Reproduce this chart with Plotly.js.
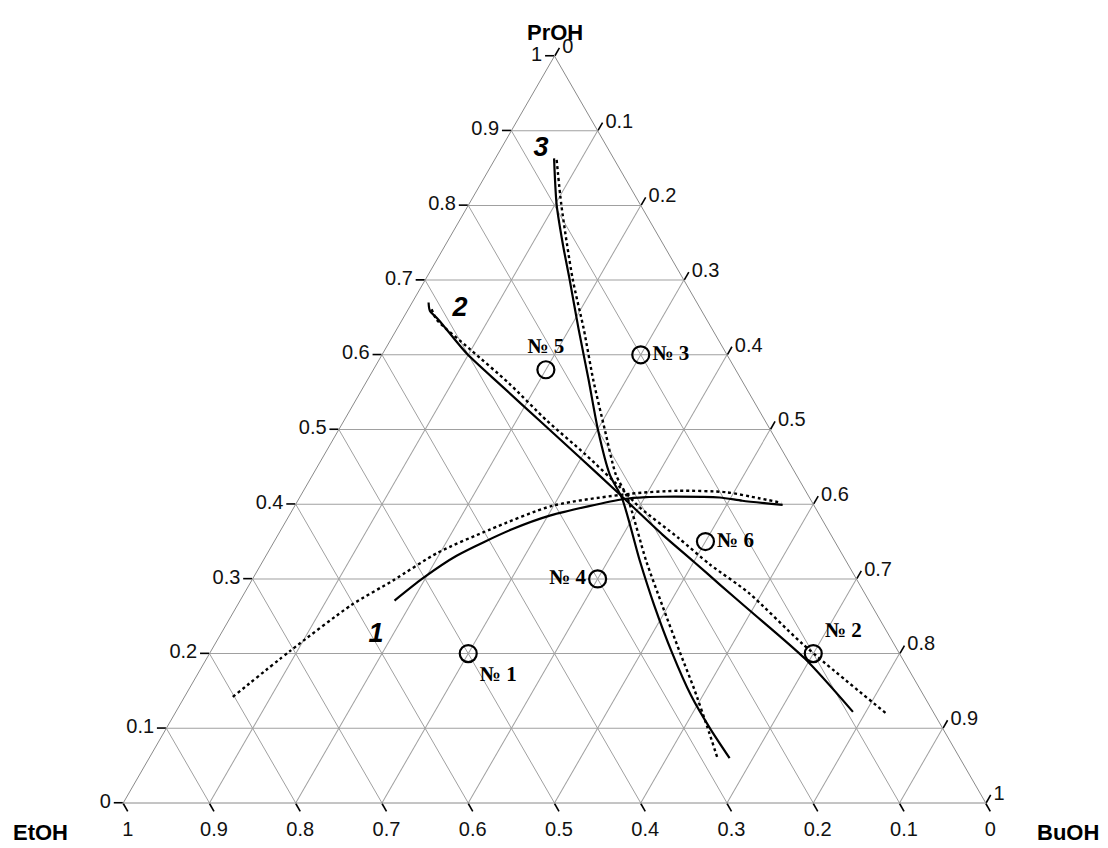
<!DOCTYPE html>
<html>
<head>
<meta charset="utf-8">
<script src="https://cdn.plot.ly/plotly-3.0.1.min.js"></script>
<style>html,body{margin:0;padding:0;background:#fff;}#chart{width:1108px;height:848px;}</style>
</head>
<body>
<div id="chart"></div>
<script>
// Component names (apex: PrOH, left: EtOH, right: BuOH)
var axisNames = ["PrOH", "EtOH", "BuOH"];

// Experimental compositions (PrOH, EtOH, BuOH)
var pointLabels = ["№ 1", "№ 2", "№ 3", "№ 4", "№ 5", "№ 6"];
var pointPrOH = [0.20, 0.20, 0.60, 0.30, 0.58, 0.35];
var pointEtOH = [0.50, 0.10, 0.10, 0.30, 0.22, 0.15];
var pointBuOH = [0.30, 0.70, 0.30, 0.40, 0.20, 0.50];

// Curve 1 (solid)
var c1PrOH = [0.271, 0.301, 0.331, 0.366, 0.385, 0.407, 0.410, 0.410, 0.409, 0.405, 0.399];
var c1EtOH = [0.550, 0.502, 0.448, 0.367, 0.312, 0.216, 0.189, 0.170, 0.104, 0.080, 0.036];
var c1BuOH = [0.179, 0.197, 0.221, 0.267, 0.303, 0.377, 0.402, 0.420, 0.487, 0.516, 0.565];
// Curve 1 (dotted)
var d1PrOH = [0.142, 0.204, 0.265, 0.298, 0.335, 0.366, 0.398, 0.414, 0.418, 0.416, 0.408, 0.402];
var d1EtOH = [0.802, 0.704, 0.603, 0.538, 0.468, 0.392, 0.303, 0.205, 0.147, 0.093, 0.059, 0.036];
var d1BuOH = [0.056, 0.092, 0.132, 0.164, 0.197, 0.242, 0.299, 0.381, 0.435, 0.491, 0.533, 0.562];

// Curve 2 (solid)
var c2PrOH = [0.670, 0.659, 0.647, 0.602, 0.558, 0.511, 0.464, 0.416, 0.359, 0.323, 0.292, 0.258, 0.193, 0.122];
var c2EtOH = [0.311, 0.315, 0.311, 0.301, 0.282, 0.261, 0.240, 0.219, 0.195, 0.177, 0.162, 0.145, 0.113, 0.093];
var c2BuOH = [0.019, 0.026, 0.042, 0.097, 0.160, 0.228, 0.297, 0.365, 0.445, 0.501, 0.547, 0.597, 0.694, 0.785];
// Curve 2 (dotted)
var d2PrOH = [0.661, 0.647, 0.607, 0.562, 0.512, 0.467, 0.418, 0.395, 0.355, 0.319, 0.281, 0.213, 0.119];
var d2EtOH = [0.312, 0.313, 0.294, 0.272, 0.253, 0.231, 0.211, 0.203, 0.179, 0.160, 0.134, 0.106, 0.055];
var d2BuOH = [0.027, 0.040, 0.099, 0.166, 0.235, 0.302, 0.371, 0.401, 0.466, 0.521, 0.585, 0.681, 0.826];

// Curve 3 (solid)
var c3PrOH = [0.863, 0.800, 0.746, 0.701, 0.634, 0.566, 0.499, 0.440, 0.408, 0.324, 0.265, 0.202, 0.144, 0.099, 0.060];
var c3EtOH = [0.069, 0.097, 0.117, 0.132, 0.155, 0.177, 0.200, 0.216, 0.218, 0.239, 0.252, 0.263, 0.270, 0.270, 0.267];
var c3BuOH = [0.068, 0.102, 0.137, 0.167, 0.211, 0.256, 0.301, 0.344, 0.375, 0.437, 0.483, 0.535, 0.587, 0.632, 0.673];
// Curve 3 (dotted)
var d3PrOH = [0.861, 0.800, 0.701, 0.634, 0.566, 0.499, 0.440, 0.409, 0.324, 0.265, 0.202, 0.153, 0.103, 0.060];
var d3EtOH = [0.067, 0.092, 0.128, 0.149, 0.172, 0.192, 0.209, 0.211, 0.232, 0.243, 0.254, 0.262, 0.272, 0.281];
var d3BuOH = [0.072, 0.108, 0.170, 0.217, 0.262, 0.309, 0.351, 0.380, 0.445, 0.493, 0.545, 0.586, 0.626, 0.659];

// Curve number labels
var curveLabels = ["1", "2", "3"];
var curveLabelPrOH = [0.224, 0.661, 0.875];
var curveLabelEtOH = [0.595, 0.279, 0.078];
var curveLabelBuOH = [0.181, 0.060, 0.047];

var ticks = [0, 0.1, 0.2, 0.3, 0.4, 0.5, 0.6, 0.7, 0.8, 0.9, 1];
var tickText = ["0", "0.1", "0.2", "0.3", "0.4", "0.5", "0.6", "0.7", "0.8", "0.9", "1"];

function line(a, b, c, dash) {
  return {
    type: "scatterternary", mode: "lines", a: a, b: b, c: c,
    line: {color: "#000", width: dash === "solid" ? 2.2 : 2.4, dash: dash, shape: "spline", smoothing: 0.7},
    hoverinfo: "skip", showlegend: false
  };
}

var traces = [
  line(d1PrOH, d1EtOH, d1BuOH, "dot"),
  line(d2PrOH, d2EtOH, d2BuOH, "dot"),
  line(d3PrOH, d3EtOH, d3BuOH, "dot"),
  line(c1PrOH, c1EtOH, c1BuOH, "solid"),
  line(c2PrOH, c2EtOH, c2BuOH, "solid"),
  line(c3PrOH, c3EtOH, c3BuOH, "solid"),
  {
    type: "scatterternary", mode: "markers+text",
    a: pointPrOH, b: pointEtOH, c: pointBuOH, text: pointLabels,
    textposition: ["bottom right", "top right", "middle right", "middle left", "top center", "middle right"],
    textfont: {family: "Liberation Serif, Times New Roman, serif", size: 21, weight: "bold", color: "#000"},
    marker: {symbol: "circle-open", size: 17, color: "#000", line: {width: 2.2, color: "#000"}},
    showlegend: false
  },
  {
    type: "scatterternary", mode: "text",
    a: curveLabelPrOH, b: curveLabelEtOH, c: curveLabelBuOH, text: curveLabels,
    textfont: {family: "Liberation Sans, Arial, sans-serif", size: 27, weight: "bold", style: "italic", color: "#000"},
    hoverinfo: "skip", showlegend: false
  }
];

function axis() {
  return {
    title: {text: ""},
    tickmode: "array", tickvals: ticks, ticktext: tickText,
    tickfont: {family: "Liberation Sans, Arial, sans-serif", size: 20, color: "#111"},
    ticks: "outside", ticklen: 9, tickwidth: 1.6, tickcolor: "#000",
    showgrid: true, gridcolor: "#a0a0a0", gridwidth: 1,
    showline: true, linecolor: "#8a8a8a", linewidth: 1
  };
}

var titleFont = {family: "Liberation Sans, Arial, sans-serif", size: 22, weight: "bold", color: "#000"};

var layout = {
  width: 1108, height: 848,
  margin: {l: 123, r: 122, t: 56, b: 45},
  paper_bgcolor: "#fff",
  showlegend: false,
  font: {family: "Liberation Sans, Arial, sans-serif"},
  ternary: {
    sum: 1,
    bgcolor: "#fff",
    aaxis: axis(),
    baxis: axis(),
    caxis: axis()
  },
  annotations: [
    {text: axisNames[0], xref: "paper", yref: "paper", x: 0.5006, y: 1.031, xanchor: "center", yanchor: "middle", showarrow: false, font: titleFont},
    {text: axisNames[1], xref: "paper", yref: "paper", x: -0.096, y: -0.040, xanchor: "center", yanchor: "middle", showarrow: false, font: titleFont},
    {text: axisNames[2], xref: "paper", yref: "paper", x: 1.095, y: -0.040, xanchor: "center", yanchor: "middle", showarrow: false, font: titleFont}
  ]
};

Plotly.newPlot("chart", traces, layout, {displayModeBar: false, staticPlot: true});
</script>
</body>
</html>
